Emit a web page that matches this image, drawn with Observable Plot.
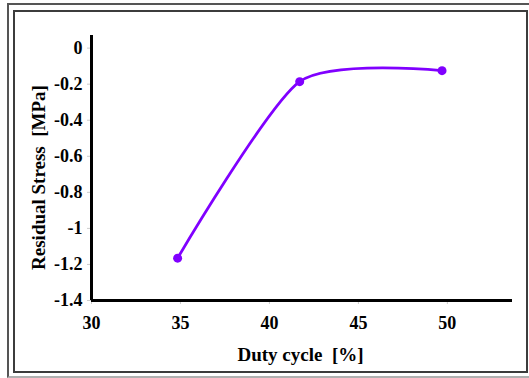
<!DOCTYPE html>
<html><head><meta charset="utf-8">
<script src="https://cdn.jsdelivr.net/npm/d3@7"></script>
<script src="https://cdn.jsdelivr.net/npm/@observablehq/plot@0.6"></script>
<style>
html,body{margin:0;padding:0;background:#fff;overflow:hidden;}
#wrap{position:relative;width:529px;height:378px;}
.b{position:absolute;box-sizing:border-box;}
#outer{left:7px;top:3px;width:540px;height:375px;border:2.5px solid #555;border-bottom-color:#b0b0b0;}
#inner{left:13px;top:10px;width:515px;height:363px;border:2.5px solid #3c3c3c;}
#chart{position:absolute;left:0;top:0;}
</style></head><body>
<div id="wrap"><div class="b" id="outer"></div><div class="b" id="inner"></div><div id="chart"></div></div>
<script>
const dutyCycle = [34.84, 41.7, 49.7];
const residualStress = [-1.165, -0.186, -0.125];
const xTicks = [30, 35, 40, 45, 50];
const yTicks = [0, -0.2, -0.4, -0.6, -0.8, -1, -1.2, -1.4];
const xLabel = "Duty cycle  [%]";
const yLabel = "Residual Stress  [MPa]";

const data = dutyCycle.map((x, i) => ({x, y: residualStress[i]}));

const chart = Plot.plot({
  width: 529,
  height: 378,
  marginLeft: 91,
  marginRight: 17,
  marginTop: 35,
  marginBottom: 78,
  style: {fontFamily: "'Liberation Serif', 'Times New Roman', serif", fontWeight: "bold", fontSize: "18px", background: "transparent", color: "black"},
  x: {domain: [30, 53.66]},
  y: {domain: [-1.4, 0.07]},
  marks: [
    Plot.axisX({ticks: xTicks, tickFormat: d => String(d), tickSize: 4, tickPadding: 12, stroke: "#ccc", fill: "black", label: null}),
    Plot.axisY({ticks: yTicks, tickFormat: d => String(d), tickSize: 4, tickPadding: 5, stroke: "#ccc", fill: "black", label: null}),
    Plot.text([xLabel], {text: d => d, frameAnchor: "bottom", textAnchor: "middle", lineAnchor: "middle", dx: -1.5, dy: 54, fontSize: 19, fill: "black"}),
    Plot.text([yLabel], {text: d => d, frameAnchor: "left", textAnchor: "middle", lineAnchor: "middle", rotate: -90, dx: -53, dy: 9.5, fontSize: 19, fill: "black"}),
    Plot.ruleX([30], {stroke: "black", strokeWidth: 3}),
    Plot.ruleY([-1.4], {stroke: "black", strokeWidth: 3}),
    Plot.line(data, {x: "x", y: "y", curve: "cardinal", tension: 0.3, stroke: "#8000ff", strokeWidth: 2.8}),
    Plot.dot(data, {x: "x", y: "y", r: 4.5, fill: "#8000ff", stroke: "none"})
  ]
});
document.getElementById("chart").appendChild(chart);
</script>
</body></html>
